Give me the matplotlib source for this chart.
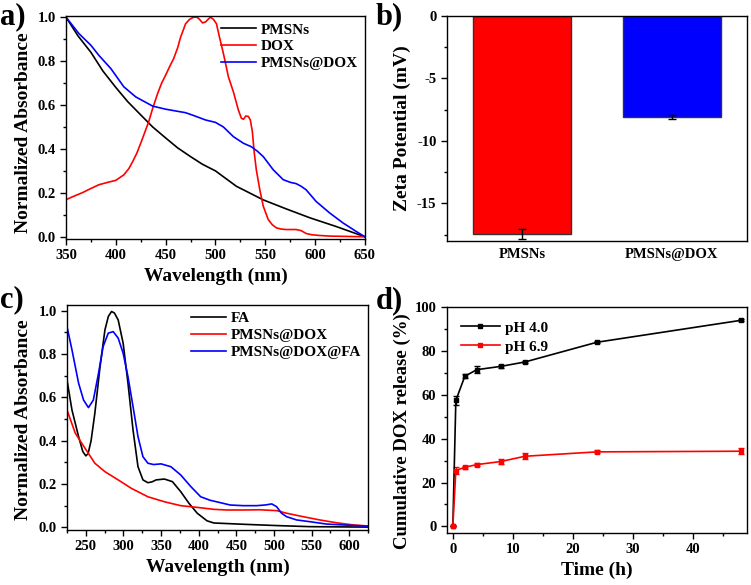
import numpy as np
import matplotlib
matplotlib.use("Agg")
import matplotlib.pyplot as plt
from matplotlib.ticker import MultipleLocator, FormatStrFormatter

plt.rcParams['font.family'] = ['Liberation Serif', 'DejaVu Serif']
plt.rcParams['font.weight'] = 'bold'
plt.rcParams['axes.labelweight'] = 'bold'
plt.rcParams['axes.unicode_minus'] = False

# ---------------- Panel a data ----------------
wl_a_pmsn = [350, 362, 375, 387, 400, 412, 425, 437, 450, 462, 475, 487, 500, 521, 548, 571,
             595, 621, 650]
abs_pmsn = [1.0, 0.915, 0.84, 0.755, 0.68, 0.615, 0.555, 0.5, 0.45, 0.405, 0.365, 0.33, 0.30,
            0.23, 0.168, 0.127, 0.086, 0.047, 0.0]

wl_a_dox = [350, 358, 367, 375, 383, 392, 400, 408, 413, 417, 421, 425, 429, 433, 437, 442, 446,
            450, 454, 458, 462, 465, 468, 470, 474, 478, 481, 483, 485, 487, 490, 493, 495, 498,
            501, 504, 508, 513, 518, 523, 526, 528, 530.5, 533, 535, 537, 539, 541, 544.5, 548,
            553, 557, 561, 566, 571, 581, 586, 591, 597, 604.5, 615, 628, 650]
abs_dox = [0.169, 0.185, 0.202, 0.22, 0.237, 0.248, 0.257, 0.282, 0.31, 0.343, 0.38, 0.426, 0.475,
           0.524, 0.585, 0.653, 0.7, 0.736, 0.775, 0.811, 0.86, 0.909, 0.945, 0.97, 0.99, 1.0,
           1.0, 0.995, 0.985, 0.974, 0.978, 0.992, 1.0, 0.99, 0.97, 0.91, 0.834, 0.728, 0.66,
           0.577, 0.54, 0.535, 0.55, 0.548, 0.532, 0.48, 0.38, 0.305, 0.214, 0.139, 0.078, 0.055,
           0.041, 0.035, 0.033, 0.033, 0.028, 0.015, 0.009, 0.006, 0.003, 0.002, 0.0]

wl_a_pd = [350, 363, 375, 383, 395, 408, 420, 437, 450, 470, 477, 490, 500, 508, 518, 528, 536,
           542, 548, 553, 558, 568, 575, 581, 586, 591, 601, 614.5, 628, 641, 650]
abs_pd = [1.0, 0.925, 0.872, 0.826, 0.766, 0.683, 0.637, 0.595, 0.581, 0.565, 0.554, 0.532,
          0.521, 0.5, 0.456, 0.426, 0.41, 0.39, 0.365, 0.335, 0.305, 0.26, 0.248, 0.242, 0.23,
          0.214, 0.161, 0.109, 0.063, 0.025, 0.0]

# ---------------- Panel b data ----------------
zeta_labels = ['PMSNs', 'PMSNs@DOX']
zeta_values = [-17.4, -8.1]
zeta_errors = [0.4, 0.15]
zeta_colors = ['#FF0000', '#0000FF']

# ---------------- Panel c data ----------------
wl_c_fa = [225, 231.6, 240.4, 246, 250, 253, 257, 262, 268.9, 275.4, 280, 284.2, 288, 293,
           299.6, 306, 312.7, 319.3, 325.9, 332.5, 338, 343.4, 354.4, 365, 376, 387, 398, 411,
           420, 433, 459, 503.5, 547.6, 625]
abs_fa = [0.681, 0.542, 0.419, 0.35, 0.33, 0.34, 0.4, 0.527, 0.742, 0.912, 0.975, 0.997, 0.99,
          0.958, 0.85, 0.666, 0.45, 0.28, 0.219, 0.206, 0.21, 0.219, 0.223, 0.211, 0.165, 0.111,
          0.065, 0.03, 0.02, 0.018, 0.014, 0.008, 0.003, 0.001]

wl_c_pd = [225, 236, 249, 262, 275.4, 293, 310.5, 332.5, 354.4, 376, 398, 420, 437, 459, 481,
           503.5, 516.7, 538.8, 560.8, 582.8, 605, 625]
abs_c_pd = [0.542, 0.435, 0.365, 0.296, 0.257, 0.219, 0.18, 0.141, 0.118, 0.1, 0.092, 0.083,
            0.08, 0.08, 0.081, 0.077, 0.065, 0.049, 0.034, 0.021, 0.011, 0.006]

wl_c_pdf = [225, 231.6, 240.4, 247, 253.5, 260, 266.9, 273, 279.8, 286.4, 293, 299.6, 306, 312.7,
            319.3, 325.9, 332.5, 340, 350, 363, 376, 389.5, 402.6, 415, 428.5, 441.7, 459, 477,
            488, 497, 503.5, 510, 516.7, 530, 547.6, 569.6, 591.6, 625]
abs_pdf = [0.927, 0.82, 0.666, 0.588, 0.553, 0.588, 0.712, 0.835, 0.897, 0.904, 0.874, 0.804,
           0.696, 0.558, 0.419, 0.326, 0.296, 0.29, 0.293, 0.28, 0.242, 0.188, 0.141, 0.125,
           0.114, 0.103, 0.1, 0.1, 0.103, 0.108, 0.095, 0.065, 0.049, 0.034, 0.026, 0.015,
           0.011, 0.005]

# ---------------- Panel d data ----------------
time_h = [0, 0.5, 2, 4, 8, 12, 24, 48]
rel_ph40 = [0, 57.5, 68.5, 71.5, 73.0, 75.0, 84.0, 94.0]
err_ph40 = [0, 2.0, 1.0, 1.5, 0.6, 0.5, 0.5, 0.5]
rel_ph69 = [0, 25.5, 27.0, 28.2, 29.6, 32.0, 34.0, 34.3]
err_ph69 = [0, 1.5, 0.7, 0.6, 1.0, 1.3, 0.7, 1.4]

# ---------------- Figure ----------------
fig = plt.figure(figsize=(7.51, 5.85), dpi=100)

TICK_FS = 10.5
LABEL_FS = 14
LEG_FS = 11
PANEL_FS = 22
LW = 1.2


def style_axes(ax):
    ax.tick_params(axis='both', which='both', direction='out', top=False, right=False,
                   labelsize=TICK_FS, width=1.0)
    ax.tick_params(which='major', length=4)
    ax.tick_params(which='minor', length=2.5)
    for s in ax.spines.values():
        s.set_linewidth(1.0)
    for lab in ax.get_xticklabels() + ax.get_yticklabels():
        lab.set_fontweight('bold')


def add_legend(ax, loc):
    ax.legend(loc=loc, frameon=False, prop={'size': LEG_FS, 'weight': 'bold'},
              handlelength=2.3, handletextpad=0.3, borderaxespad=0.15, borderpad=0.3,
              labelspacing=0.2)


# Panel a
ax_a = fig.add_axes([0.0879, 0.5915, 0.398, 0.381])
ax_a.plot(wl_a_pmsn, abs_pmsn, color='black', lw=LW, label='PMSNs')
ax_a.plot(wl_a_dox, abs_dox, color='#FF0000', lw=LW, label='DOX')
ax_a.plot(wl_a_pd, abs_pd, color='#0000FF', lw=LW, label='PMSNs@DOX')
ax_a.set_xlim(350, 650)
ax_a.set_ylim(-0.01, 1.005)
ax_a.xaxis.set_major_locator(MultipleLocator(50))
ax_a.xaxis.set_minor_locator(MultipleLocator(25))
ax_a.yaxis.set_major_locator(MultipleLocator(0.2))
ax_a.yaxis.set_minor_locator(MultipleLocator(0.1))
ax_a.yaxis.set_major_formatter(FormatStrFormatter('%.1f'))
ax_a.set_xlabel('Wavelength (nm)', fontsize=LABEL_FS, fontweight='bold')
ax_a.set_ylabel('Normalized Absorbance', fontsize=LABEL_FS, fontweight='bold')
ax_a.yaxis.set_label_coords(-0.115, 0.475)
add_legend(ax_a, 'upper right')
style_axes(ax_a)

# Panel b
ax_b = fig.add_axes([0.595, 0.588, 0.3995, 0.385])
xb = np.arange(len(zeta_labels))
ax_b.bar(xb, zeta_values, width=0.65, color=zeta_colors, edgecolor='#333333', linewidth=1.0,
         yerr=zeta_errors, capsize=3,
         error_kw={'elinewidth': 1.0, 'capthick': 1.0, 'ecolor': 'black'})
ax_b.set_xlim(-0.5, 1.5)
ax_b.set_ylim(-18, 0)
ax_b.set_xticks(xb)
ax_b.set_xticklabels(zeta_labels)
ax_b.yaxis.set_major_locator(MultipleLocator(5))
ax_b.yaxis.set_minor_locator(MultipleLocator(2.5))
ax_b.set_ylabel('Zeta Potential (mV)', fontsize=LABEL_FS, fontweight='bold')
style_axes(ax_b)
ax_b.tick_params(axis='x', length=0, pad=5)

# Panel c
ax_c = fig.add_axes([0.0892, 0.094, 0.401, 0.385])
ax_c.plot(wl_c_fa, abs_fa, color='black', lw=LW, label='FA')
ax_c.plot(wl_c_pd, abs_c_pd, color='#FF0000', lw=LW, label='PMSNs@DOX')
ax_c.plot(wl_c_pdf, abs_pdf, color='#0000FF', lw=LW, label='PMSNs@DOX@FA')
ax_c.set_xlim(225, 625)
ax_c.set_ylim(-0.0125, 1.028)
ax_c.xaxis.set_major_locator(MultipleLocator(50))
ax_c.xaxis.set_minor_locator(MultipleLocator(25))
ax_c.yaxis.set_major_locator(MultipleLocator(0.2))
ax_c.yaxis.set_minor_locator(MultipleLocator(0.1))
ax_c.yaxis.set_major_formatter(FormatStrFormatter('%.1f'))
ax_c.set_xlabel('Wavelength (nm)', fontsize=LABEL_FS, fontweight='bold')
ax_c.set_ylabel('Normalized Absorbance', fontsize=LABEL_FS, fontweight='bold')
ax_c.yaxis.set_label_coords(-0.115, 0.49)
add_legend(ax_c, 'upper right')
style_axes(ax_c)

# Panel d
ax_d = fig.add_axes([0.595, 0.0889, 0.3995, 0.386])
ax_d.errorbar(time_h, rel_ph40, yerr=err_ph40, color='black', lw=LW, marker='s', ms=3,
              capsize=2.5, elinewidth=1.0, capthick=1.0, label='_nolegend_')
ax_d.errorbar(time_h, rel_ph69, yerr=err_ph69, color='#FF0000', lw=LW, marker='s', ms=3,
              capsize=2.5, elinewidth=1.0, capthick=1.0, label='_nolegend_')
ax_d.plot([], [], color='black', lw=LW, marker='s', ms=3, label='pH 4.0')
ax_d.plot([], [], color='#FF0000', lw=LW, marker='s', ms=3, label='pH 6.9')
ax_d.set_xlim(-1, 49)
ax_d.set_ylim(-3, 100)
ax_d.xaxis.set_major_locator(MultipleLocator(10))
ax_d.xaxis.set_minor_locator(MultipleLocator(5))
ax_d.yaxis.set_major_locator(MultipleLocator(20))
ax_d.yaxis.set_minor_locator(MultipleLocator(10))
ax_d.set_xlabel('Time (h)', fontsize=LABEL_FS, fontweight='bold')
ax_d.set_ylabel('Cumulative DOX release (%)', fontsize=13.5, fontweight='bold')
ax_d.yaxis.set_label_coords(-0.12, 0.45)
ax_d.legend(loc='upper left', frameon=False, prop={'size': LEG_FS, 'weight': 'bold'},
            handlelength=2.6, handletextpad=0.3, borderaxespad=0.5, labelspacing=0.35)
style_axes(ax_d)

# Panel letters
fig.text(0.0, 0.997, 'a)', fontsize=PANEL_FS, fontweight='bold', va='top', ha='left')
fig.text(0.50, 0.997, 'b)', fontsize=PANEL_FS, fontweight='bold', va='top', ha='left')
fig.text(0.0, 0.512, 'c)', fontsize=PANEL_FS, fontweight='bold', va='top', ha='left')
fig.text(0.50, 0.510, 'd)', fontsize=PANEL_FS, fontweight='bold', va='top', ha='left')

fig.savefig('out.png', dpi=100)
